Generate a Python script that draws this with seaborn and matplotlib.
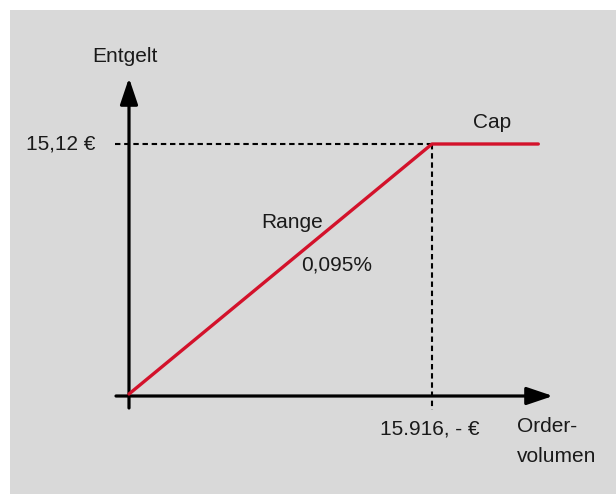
"""
Schematic fee chart: linear range fee up to a cap.
"""

import matplotlib.pyplot as plt
import seaborn as sns
import pandas as pd
from matplotlib.patches import Rectangle

# data
volume = [0, 15916, 21500]
fee = [0, 15.12, 15.12]
cap_volume = 15916
cap_fee = 15.12
range_label = ["Range", "0,095%"]
fee_label = "15,12 €"
volume_label = "15.916, - €"

W, H = 616, 494
RED = "#d3122b"
TXT = "#1a1a1a"
GRAY = "#d9d9d9"

sns.set_theme(style="white")
plt.rcParams["font.family"] = ["Liberation Sans", "DejaVu Sans"]

fig = plt.figure(figsize=(W / 100, H / 100), dpi=100)
ax = fig.add_axes([0, 0, 1, 1])

# origin at pixel (129, 394), cap corner at pixel (432, 144)
sx = cap_volume / (432 - 129)
sy = cap_fee / (394 - 144)
ax.set_xlim(-129 * sx, (W - 129) * sx)
ax.set_ylim(-(H - 394) * sy, 394 * sy)
ax.axis("off")

ax.add_patch(Rectangle((10 / W, 0), 1, (H - 10) / H, transform=ax.transAxes,
                       facecolor=GRAY, edgecolor="none", zorder=0))

# dashed guides
ax.plot([-14 * sx, cap_volume], [cap_fee, cap_fee], color="black", lw=1.5,
        linestyle=(0, (2.6, 1.8)), zorder=2)
ax.plot([cap_volume, cap_volume], [cap_fee, -16 * sy], color="black", lw=1.5,
        linestyle=(0, (2.6, 1.8)), zorder=2)

# axes with arrows
arrow = dict(arrowstyle="-|>,head_length=0.8,head_width=0.27", color="black",
             lw=2.3, mutation_scale=20, shrinkA=0, shrinkB=0)
ax.annotate("", xy=(0, 316 * sy), xytext=(0, -14 * sy), arrowprops=arrow, zorder=3)
ax.annotate("", xy=(424 * sx, -2 * sy), xytext=(-13 * sx, -2 * sy),
            arrowprops=arrow, zorder=3)

# fee curve
df = pd.DataFrame({"volume": volume, "fee": fee})
sns.lineplot(data=df, x="volume", y="fee", sort=False, color=RED, lw=2.4,
             ax=ax, zorder=4)

fs = 15
ax.text(-4 * sx, 337 * sy, "Entgelt", ha="center", va="center", fontsize=fs, color=TXT)
ax.text(-34 * sx, cap_fee, fee_label, ha="right", va="center", fontsize=fs, color=TXT)
ax.text(363 * sx, 271 * sy, "Cap", ha="center", va="center", fontsize=fs, color=TXT)
ax.text(163 * sx, 172 * sy, range_label[0], ha="center", va="center", fontsize=fs, color=TXT)
ax.text(208 * sx, 129 * sy, range_label[1], ha="center", va="center", fontsize=fs, color=TXT)
ax.text(cap_volume - 2 * sx, -35 * sy, volume_label, ha="center", va="center",
        fontsize=fs, color=TXT)
ax.text(388 * sx, -33 * sy, "Order-", ha="left", va="center", fontsize=fs, color=TXT)
ax.text(388 * sx, -62 * sy, "volumen", ha="left", va="center", fontsize=fs, color=TXT)

fig.savefig("out.png", dpi=100)
